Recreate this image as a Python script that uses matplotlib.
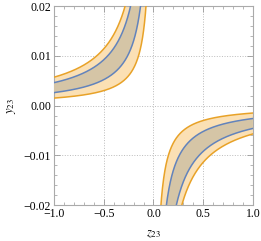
import numpy as np
import matplotlib.pyplot as plt
from matplotlib.ticker import MultipleLocator

plt.rcParams['font.family'] = ['Liberation Serif', 'DejaVu Serif']
plt.rcParams['mathtext.fontset'] = 'stix'

# band coefficients: y23 = -k / z23
k_outer = [0.0015, 0.0057]
k_inner = [0.0026, 0.0046]
x_ticks = [-1.0, -0.5, 0.0, 0.5, 1.0]
y_ticks = [-0.02, -0.01, 0.00, 0.01, 0.02]

orange = '#E8A228'
blue = '#6283BC'
fill_outer = '#FBE0B4'
fill_inner = '#D5C5A6'

fig = plt.figure(figsize=(2.61, 2.41), dpi=100)
ax = fig.add_axes([0.207, 0.149, 0.762, 0.826])

for branch in [np.linspace(-1.0, -0.05, 400), np.linspace(0.05, 1.0, 400)]:
    yo = [-k / branch for k in k_outer]
    yi = [-k / branch for k in k_inner]
    ax.fill_between(branch, yo[0], yo[1], color=fill_outer, lw=0, zorder=2)
    ax.fill_between(branch, yi[0], yi[1], color=fill_inner, lw=0, zorder=3)
    for y in yo:
        ax.plot(branch, y, color=orange, lw=1.1, zorder=4)
    for y in yi:
        ax.plot(branch, y, color=blue, lw=1.1, zorder=4)

ax.set_xlim(-1, 1)
ax.set_ylim(-0.02, 0.02)
ax.set_xticks(x_ticks)
ax.set_yticks(y_ticks)
ax.set_xticklabels(['\u22121.0', '\u22120.5', '0.0', '0.5', '1.0'])
ax.set_yticklabels(['\u22120.02', '\u22120.01', '0.00', '0.01', '0.02'])
ax.xaxis.set_minor_locator(MultipleLocator(0.1))
ax.yaxis.set_minor_locator(MultipleLocator(0.002))
ax.tick_params(which='both', direction='in', top=True, right=True, color='#999999',
               labelsize=8.5, pad=2)
ax.tick_params(which='major', length=4, width=0.6)
ax.tick_params(which='minor', length=2, width=0.5)
ax.grid(True, which='major', ls=':', color='#bbbbbb', lw=0.7, zorder=1)
for s in ax.spines.values():
    s.set_color('#aaaaaa')
    s.set_linewidth(0.8)

ax.set_xlabel('$z_{23}$', fontsize=9, labelpad=6)
ax.set_ylabel('$y_{23}$', fontsize=9, labelpad=4)

fig.savefig('out.png', dpi=100)
